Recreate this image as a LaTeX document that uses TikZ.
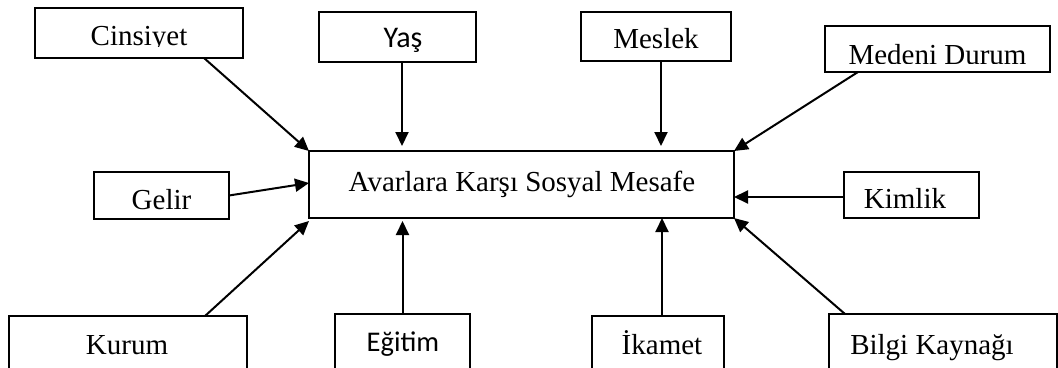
\documentclass[tikz,border=0pt]{standalone}
\usepackage{fontspec}
\setmainfont{Liberation Serif}
\newfontfamily\calfont{Carlito}
\usetikzlibrary{arrows.meta,calc}
\begin{document}
\begin{tikzpicture}[x=1pt,y=-1pt,
  box/.style={draw=black,line width=2pt,fill=white,inner sep=0pt,outer sep=0pt},
  lbl/.style={inner sep=0pt,outer sep=0pt,anchor=base,font=\fontsize{29}{34}\selectfont},
  cal/.style={lbl,font=\calfont\fontsize{28.5}{34}\selectfont},
  arr/.style={line width=2pt,-{Triangle[length=14pt,width=13pt]}}]
\useasboundingbox (0,0) rectangle (1058,367);
\clip (0,0) rectangle (1058,367);
% boxes
\node[box,minimum width=425pt,minimum height=67pt] (cen) at (521.5,184.5) {};
\node[box,minimum width=208pt,minimum height=50pt] (cin) at (139,33) {};
\node[box,minimum width=157pt,minimum height=50pt] (yas) at (397.5,37) {};
\node[box,minimum width=150pt,minimum height=49pt] (mes) at (656,36.5) {};
\node[box,minimum width=225pt,minimum height=46pt] (med) at (937.5,49) {};
\node[box,minimum width=135pt,minimum height=47pt] (gel) at (161.5,195.5) {};
\node[box,minimum width=135pt,minimum height=46pt] (kim) at (911.5,195) {};
\node[box,minimum width=238pt,minimum height=74pt] (kur) at (128,353) {};
\node[box,minimum width=135pt,minimum height=76pt] (egi) at (402.5,352) {};
\node[box,minimum width=132pt,minimum height=74pt] (ika) at (658,353) {};
\node[box,minimum width=228pt,minimum height=76pt] (bil) at (943,352) {};
% labels
\node[lbl] (tcen) at (522,191) {Avarlara Karşı Sosyal Mesafe};
\begin{scope}
\clip (36,9) rectangle (242,46.5);
\node[lbl] (tcin) at (139,45) {Cinsiyet};
\end{scope}
\node[cal,font=\calfont\fontsize{30}{34}\selectfont] (tyas) at (403,47) {Yaş};
\node[lbl] (tmes) at (656,48) {Meslek};
\begin{scope}
\clip (826,27) rectangle (1049,63.5);
\node[lbl] (tmed) at (937.5,64.5) {Medeni Durum};
\end{scope}
\node[lbl] (tgel) at (161.5,209) {Gelir};
\node[lbl] (tkim) at (905,208) {Kimlik};
\node[lbl] (tkur) at (127,354) {Kurum};
\node[cal] (tegi) at (403,351) {Eğitim};
\node[lbl] (tika) at (662,354) {İkamet};
\node[lbl] (tbil) at (932,354) {Bilgi Kaynağı};
% connectors
\draw[arr] ([xshift=169pt]cin.south west) -- (cen.north west);
\draw[arr] ([xshift=4.5pt]yas.south) -- ([xshift=-119.5pt,yshift=5pt]cen.north);
\draw[arr] ([xshift=5pt]mes.south) -- ([xshift=139.5pt,yshift=5pt]cen.north);
\draw[arr] ([xshift=33pt]med.south west) -- (cen.north east);
\draw[arr] (gel.east) -- ([yshift=1.5pt]cen.west);
\draw[arr] ([yshift=-2pt]kim.west) -- ([yshift=-12.5pt]cen.east);
\draw[arr] ([xshift=196pt]kur.north west) -- ([yshift=-3pt]cen.south west);
\draw[arr] (egi.north) -- ([xshift=-119pt,yshift=-3pt]cen.south);
\draw[arr] ([xshift=4pt]ika.north) -- ([xshift=140.5pt]cen.south);
\draw[arr] ([xshift=16pt]bil.north west) -- (cen.south east);
\end{tikzpicture}
\end{document}
